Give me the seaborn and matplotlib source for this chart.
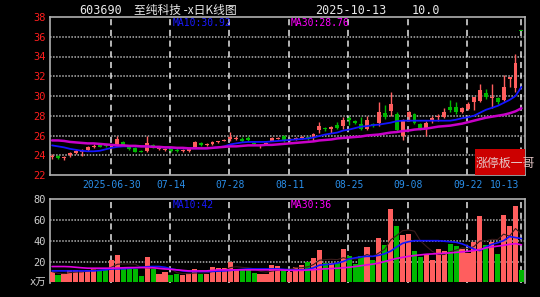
import numpy as np
import pandas as pd
import matplotlib
matplotlib.use("Agg")
import matplotlib.pyplot as plt
import seaborn as sns

# ---------------- data ----------------
tick_idx = [10, 20, 30, 40, 50, 60, 70, 79]
tick_labels = ["2025-06-30", "07-14", "07-28", "08-11", "08-25", "09-08", "09-22", "10-13"]

open_ = [23.8, 23.9, 23.75, 24.0, 24.25, 24.3, 24.5, 24.85, 25.0, 25.0,
         24.7, 25.0, 25.3, 24.9, 24.7, 24.4, 24.4, 25.0, 24.6, 24.5,
         24.6, 24.55, 24.45, 24.45, 24.85, 25.2, 25.05, 25.15, 25.3, 25.45,
         25.6, 25.65, 25.6, 25.7, 25.25, 24.9, 25.05, 25.45, 25.65, 25.9,
         25.55, 25.6, 25.7, 25.8, 25.8, 26.6, 26.8, 26.7, 27.1, 27.0,
         27.8, 27.5, 27.2, 26.7, 27.2, 27.3, 28.3, 28.5, 28.2, 26.0,
         27.9, 28.2, 27.2, 26.7, 27.6, 27.85, 27.9, 28.9, 28.9, 28.4,
         28.7, 29.4, 29.5, 30.3, 29.75, 29.8, 29.6, 31.7, 30.8, 36.6]
high = [24.1, 24.0, 23.9, 24.3, 24.6, 24.6, 24.9, 25.1, 25.1, 25.1,
        25.1, 26.0, 25.4, 25.0, 24.8, 24.5, 26.0, 25.1, 24.8, 24.7,
        24.7, 24.7, 24.6, 24.7, 25.4, 25.3, 25.2, 25.4, 25.45, 25.6,
        26.4, 25.9, 25.8, 25.9, 25.35, 25.15, 25.3, 25.85, 25.85, 26.05,
        25.75, 25.8, 25.9, 25.9, 26.3, 27.4, 26.9, 27.0, 27.4, 27.9,
        28.0, 27.6, 27.9, 28.0, 27.3, 29.4, 29.1, 30.4, 28.4, 27.7,
        28.5, 28.3, 27.3, 27.5, 28.0, 28.2, 28.8, 29.6, 29.4, 28.9,
        29.4, 29.9, 31.2, 30.7, 31.2, 29.9, 32.1, 31.95, 34.3, 36.6]
low = [23.6, 23.6, 23.5, 23.8, 24.1, 23.9, 24.4, 24.75, 24.8, 24.85,
       24.6, 24.9, 24.9, 24.5, 24.3, 24.3, 24.3, 24.7, 24.5, 24.4,
       24.3, 24.3, 24.3, 24.35, 24.8, 24.95, 24.9, 25.0, 25.2, 25.4,
       25.4, 25.5, 25.3, 25.4, 25.05, 24.75, 25.0, 25.4, 25.6, 25.35,
       25.45, 25.5, 25.65, 25.5, 25.4, 26.3, 26.5, 26.3, 26.7, 26.7,
       27.1, 27.2, 26.6, 26.6, 26.9, 27.0, 27.7, 28.0, 26.4, 25.5,
       27.5, 27.2, 26.6, 26.0, 27.3, 27.5, 27.8, 28.4, 28.2, 28.3,
       28.6, 28.6, 29.4, 29.7, 28.8, 29.2, 29.5, 30.9, 30.4, 36.6]
close = [23.9, 23.75, 23.85, 24.2, 24.45, 24.45, 24.85, 24.95, 24.85, 24.9,
         25.0, 25.6, 25.0, 24.6, 24.35, 24.35, 25.2, 24.8, 24.7, 24.6,
         24.45, 24.4, 24.55, 24.6, 25.35, 25.05, 25.15, 25.35, 25.4, 25.55,
         25.85, 25.75, 25.45, 25.5, 25.1, 25.05, 25.2, 25.75, 25.75, 25.45,
         25.65, 25.7, 25.8, 25.6, 26.2, 27.0, 26.65, 26.9, 26.8, 27.6,
         27.6, 27.3, 26.7, 27.6, 27.0, 28.4, 27.9, 29.2, 26.6, 27.5,
         28.4, 27.3, 26.7, 27.3, 27.75, 27.95, 28.4, 28.6, 28.4, 28.8,
         29.2, 29.9, 30.6, 29.9, 29.85, 29.4, 30.9, 31.9, 33.3, 36.6]

ma10 = [25.0, 24.9, 24.8, 24.65, 24.55, 24.45, 24.4, 24.4, 24.45, 24.6,
        24.75, 24.85, 24.9, 24.9, 24.9, 24.9, 24.9, 24.85, 24.8, 24.8,
        24.75, 24.7, 24.7, 24.7, 24.7, 24.7, 24.7, 24.75, 24.8, 24.9,
        25.1, 25.2, 25.3, 25.35, 25.35, 25.35, 25.35, 25.4, 25.45, 25.5,
        25.55, 25.6, 25.65, 25.7, 25.8, 25.95, 26.1, 26.2, 26.3, 26.5,
        26.6, 26.75, 26.9, 26.95, 27.05, 27.1, 27.2, 27.3, 27.45, 27.5,
        27.5, 27.5, 27.5, 27.5, 27.5, 27.5, 27.5, 27.5, 27.6, 27.75,
        27.85, 28.0, 28.3, 28.6, 28.8, 29.0, 29.3, 29.6, 30.0, 30.92]
ma30 = [25.5, 25.5, 25.45, 25.35, 25.3, 25.25, 25.2, 25.2, 25.15, 25.1,
        25.05, 25.0, 25.0, 24.95, 24.95, 24.9, 24.9, 24.85, 24.85, 24.8,
        24.8, 24.75, 24.75, 24.7, 24.7, 24.7, 24.7, 24.75, 24.8, 24.85,
        24.9, 24.9, 24.95, 25.0, 25.0, 25.0, 25.05, 25.05, 25.1, 25.15,
        25.2, 25.25, 25.3, 25.35, 25.4, 25.5, 25.55, 25.6, 25.7, 25.75,
        25.8, 25.85, 25.9, 26.0, 26.05, 26.1, 26.2, 26.3, 26.35, 26.45,
        26.5, 26.6, 26.65, 26.7, 26.8, 26.9, 26.95, 27.0, 27.1, 27.2,
        27.35, 27.5, 27.65, 27.8, 27.9, 28.0, 28.1, 28.25, 28.45, 28.76]

volume = [10.3, 7.1, 8.1, 12, 12, 11, 12, 13, 12, 14,
          21.6, 26.5, 14, 12.5, 12.5, 6.2, 24.8, 12.7, 8.5, 10.4,
          7.2, 8.2, 7.4, 9, 13, 8, 7.8, 15, 14, 14,
          20, 12, 12, 12, 9, 8, 8, 17, 16, 12,
          10.3, 15.2, 16.8, 20, 23, 31, 18.4, 18.4, 18.4, 32,
          25.5, 18, 25, 33.5, 21.6, 43, 36, 70, 54, 45,
          46.5, 30, 24, 27, 21, 32, 29.7, 37, 35, 32,
          28.5, 39, 64, 36, 39, 27.5, 65, 54, 73, 12]
vol_ma10 = [11, 11, 11, 11, 11, 11, 11, 11, 11.5, 12,
            12.9, 13, 13, 13.5, 14, 14.5, 15, 15.2, 15.2, 14.5,
            13, 12, 11, 10.5, 10.4, 10.4, 10.4, 10.5, 10.8, 11,
            11.5, 12, 12.5, 12.9, 12.9, 12.9, 12.9, 12.9, 12.9, 12.5,
            12, 12, 12, 12.5, 14, 16.5, 17, 17.5, 18.4, 20,
            22.5, 23.5, 24.5, 25, 25, 26, 27.5, 30, 34, 37.5,
            39, 40, 40, 40, 40, 40, 39.5, 39, 38.5, 37,
            34.6, 32, 30.5, 34, 36.5, 38, 40, 44, 43, 42]
vol_ma30 = [15.2, 15.2, 15.2, 15, 14.5, 14, 13.6, 13.6, 13.6, 13.6,
            13.6, 13.8, 14, 14.2, 14.2, 14.2, 14.2, 14, 13.5, 12.9,
            12.5, 12, 11.5, 11, 11, 11, 11, 11.5, 12, 12,
            12, 12, 12, 12, 12, 12, 12, 12, 12, 11.8,
            11.5, 11.5, 11.5, 11.8, 12.2, 12.6, 13, 13.3, 13.6, 14,
            14.5, 15.2, 16, 16.8, 17.5, 18.5, 20, 21.6, 23, 24,
            25, 25.8, 26.4, 27, 27.3, 27.6, 28, 28.3, 28.8, 29.3,
            29.8, 30.5, 31.5, 33, 34, 34.8, 35.5, 36.5, 37.2, 36]

stock_code = "603690"
stock_name = "至纯科技 -x日K线图"
date_text = "2025-10-13"
pct_text = "10.0"
ma10_label = "MA10:30.92"
ma30_label = "MA30:28.76"
vma10_label = "MA10:42"
vma30_label = "MA30:36"
badge = "涨停板一哥"

# ---------------- style ----------------
sns.set_style("dark", {"axes.facecolor": "black", "figure.facecolor": "black"})
plt.rcParams['font.family'] = ['DejaVu Sans Mono', 'Noto Sans CJK SC']

RED = '#ff5e5e'
GREEN = '#00b800'
BLUE = '#1414ff'
MAG = '#c800c8'
SPINE = '#b0b0b0'
GRID = '#b4b4b4'
W, H = 540, 297

df = pd.DataFrame({"i": np.arange(len(close)), "open": open_, "high": high, "low": low,
                   "close": close, "ma10": ma10, "ma30": ma30, "vol": volume,
                   "vma10": vol_ma10, "vma30": vol_ma30})
df["vma5"] = df["vol"].rolling(5, min_periods=1).mean()
up = df["close"] > df["open"]
colors = np.where(up, RED, GREEN)

fig = plt.figure(figsize=(W / 100, H / 100), dpi=100)
fig.patch.set_facecolor('black')
ax1 = fig.add_axes([50 / W, (H - 175) / H, 475 / W, 158 / H])
ax2 = fig.add_axes([50 / W, (H - 283) / H, 475 / W, 84 / H])

for ax in (ax1, ax2):
    ax.set_facecolor('black')
    ax.set_xlim(-0.35, 79.6)
    for s in ax.spines.values():
        s.set_color(SPINE)
        s.set_linewidth(1.2)
    ax.tick_params(axis='both', length=0)
    ax.set_xticks([])
    ax.grid(False)
    for t in tick_idx:
        ax.axvline(t - 0.15, color='#e8e8e8', lw=1.1, ls=(0, (4, 3)), zorder=2)
ax2.spines['bottom'].set_visible(False)

# ---- price panel ----
ax1.set_ylim(22, 38)
for yv in range(24, 38, 2):
    ax1.axhline(yv, color=GRID, lw=1.1, ls=(0, (1, 1)), zorder=1)
ax1.vlines(df["i"], df["low"], df["high"], colors=colors, lw=1.0, zorder=3)
body_bottom = np.minimum(df["open"], df["close"])
body_h = np.maximum((df["close"] - df["open"]).abs(), 0.12)
ax1.bar(df["i"], body_h, bottom=body_bottom, width=0.66, color=colors, lw=0, zorder=4)
sns.lineplot(data=df, x="i", y="ma10", ax=ax1, color=BLUE, lw=1.3, zorder=5)
sns.lineplot(data=df, x="i", y="ma30", ax=ax1, color=MAG, lw=1.8, zorder=5)
ax1.set_yticks(range(22, 39, 2))
ax1.set_yticklabels([str(v) for v in range(22, 39, 2)], color='#ff1e1e', fontsize=7.5)
ax1.tick_params(axis='y', pad=3)
ax1.set_xlabel("")
ax1.set_ylabel("")

xt = ax1.get_xaxis_transform()
for t, lab in zip(tick_idx, tick_labels):
    if t == 79:
        ax1.text(78.6, -0.065, lab, transform=xt, color='#2a8ee8', fontsize=7,
                 ha='right', va='center')
    else:
        ax1.text(t, -0.065, lab, transform=xt, color='#2a8ee8', fontsize=7,
                 ha='center', va='center')

# badge
ax1.add_patch(plt.Rectangle((475, H - 175), 50, 26, transform=None,
                            facecolor='#cc0000', edgecolor='none', zorder=6))
fig.text(476 / W, 1 - 163 / H, badge, color='#e6c8c8', fontsize=8.6,
         family=['Noto Sans CJK SC', 'DejaVu Sans'], ha='left', va='center', zorder=7)

# ---- volume panel ----
ax2.set_ylim(-0.6, 80)
for yv in (20, 40, 60):
    ax2.axhline(yv, color=GRID, lw=1.1, ls=(0, (1, 1)), zorder=1)
ax2.bar(df["i"], df["vol"], width=0.86, color=colors, lw=0, zorder=3)
sns.lineplot(data=df, x="i", y="vma5", ax=ax2, color='#3a1c1c', lw=0.8, zorder=4)
sns.lineplot(data=df, x="i", y="vma10", ax=ax2, color=BLUE, lw=1.2, zorder=5)
sns.lineplot(data=df, x="i", y="vma30", ax=ax2, color='#e000e0', lw=1.2, zorder=5)
ax2.set_yticks([0, 20, 40, 60, 80])
ax2.set_yticklabels(['x万', '20', '40', '60', '80'], color='#d0d0d0', fontsize=7.5)
ax2.tick_params(axis='y', pad=3)
ax2.set_xlabel("")
ax2.set_ylabel("")


def px(x, y):
    return x / W, 1 - y / H

# title line
fig.text(*px(79, 10), stock_code, color='#e8e8e8', fontsize=8.5, ha='left', va='center')
fig.text(*px(134, 10), stock_name, color='#e8e8e8', fontsize=8.5,
         family=['Noto Sans CJK SC', 'DejaVu Sans'], ha='left', va='center')
fig.text(*px(315, 10), date_text, color='#e8e8e8', fontsize=8.5, ha='left', va='center')
fig.text(*px(412, 10), pct_text, color='#e8e8e8', fontsize=8.5, ha='left', va='center')

# MA legends
fig.text(*px(173, 23), ma10_label, color='#1a1aff', fontsize=7, ha='left', va='center')
fig.text(*px(291, 23), ma30_label, color='#ff00ff', fontsize=7, ha='left', va='center')
fig.text(*px(173, 205), vma10_label, color='#1a1aff', fontsize=7, ha='left', va='center')
fig.text(*px(291, 205), vma30_label, color='#ff00ff', fontsize=7, ha='left', va='center')

fig.savefig("out.png", dpi=100, facecolor='black')
